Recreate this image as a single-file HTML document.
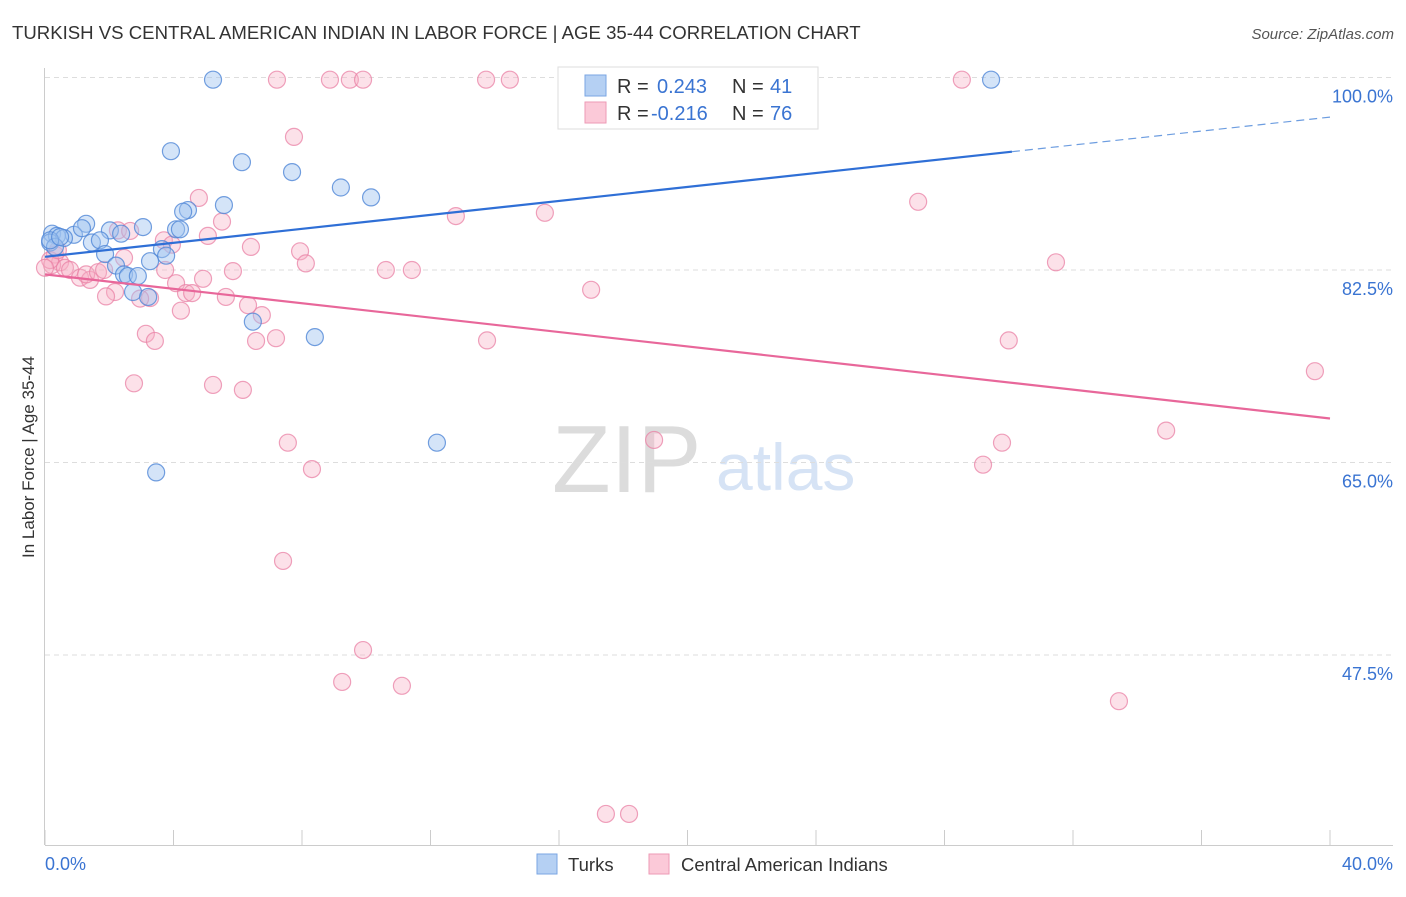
<!DOCTYPE html>
<html><head><meta charset="utf-8"><style>
body{margin:0;background:#fff;font-family:"Liberation Sans",sans-serif;}
svg text{font-family:"Liberation Sans",sans-serif;}
</style></head><body>
<svg id="chart" width="1406" height="892">
<text x="12" y="39" font-size="18.6" fill="#333">TURKISH VS CENTRAL AMERICAN INDIAN IN LABOR FORCE | AGE 35-44 CORRELATION CHART</text>
<text x="1394" y="39" font-size="15" fill="#555" font-style="italic" text-anchor="end">Source: ZipAtlas.com</text>
<text transform="translate(34,457) rotate(-90)" font-size="17" fill="#333" text-anchor="middle">In Labor Force | Age 35-44</text>
<g>
<text x="552" y="492" font-size="96" fill="#dcdcdc" font-family="Liberation Serif,serif">ZIP</text>
<text x="716" y="490" font-size="66" fill="#d6e3f5">atlas</text>
</g>
<g id="grid"></g><g id="axes"></g><g id="pts"></g><g id="lines"></g>
<g>
<rect x="558" y="67" width="260" height="62" fill="#fff" stroke="#ddd"/>
<rect x="585" y="75" width="21" height="21" fill="#b5d0f3" stroke="#7aa6e3"/>
<text x="617" y="93" font-size="20" fill="#333">R = </text><text x="657" y="93" font-size="20" fill="#3a74d2">0.243</text>
<text x="732" y="93" font-size="20" fill="#333">N = </text><text x="770" y="93" font-size="20" fill="#3a74d2">41</text>
<rect x="585" y="102" width="21" height="21" fill="#fbc9d8" stroke="#ee9ab6"/>
<text x="617" y="120" font-size="20" fill="#333">R = </text><text x="651" y="120" font-size="20" fill="#3a74d2">-0.216</text>
<text x="732" y="120" font-size="20" fill="#333">N = </text><text x="770" y="120" font-size="20" fill="#3a74d2">76</text>
</g>
<g>
<rect x="537" y="854" width="20" height="20" fill="#b5d0f3" stroke="#7aa6e3"/>
<text x="568" y="871" font-size="18.5" fill="#333">Turks</text>
<rect x="649" y="854" width="20" height="20" fill="#fbc9d8" stroke="#ee9ab6"/>
<text x="681" y="871" font-size="18.5" fill="#333">Central American Indians</text>
</g>
</svg>
<script>
const yTicks=[100,82.5,65,47.5];
const yTickLabels=["100.0%","82.5%","65.0%","47.5%"];
const xTickLabels=["0.0%","40.0%"];
const turksX=[5.23,29.45,3.92,6.13,7.69,9.21,10.15,5.57,4.45,4.30,1.28,3.05,4.08,4.20,0.22,0.37,0.90,1.15,2.02,2.37,0.59,1.46,1.71,0.16,0.31,1.87,3.64,3.77,3.27,2.21,2.46,2.58,2.89,2.74,3.21,6.47,8.40,12.20,3.46,0.16,0.47];
const turksY=[99.8,99.8,93.3,92.3,91.4,90.0,89.1,88.4,87.95,87.8,86.7,86.4,86.2,86.2,85.8,85.6,85.7,86.3,86.1,85.8,85.4,85.0,85.2,85.0,84.6,83.95,84.4,83.8,83.3,82.9,82.1,81.95,81.95,80.5,80.05,77.8,76.4,66.8,64.1,85.2,85.5];
const camX=[7.22,8.87,9.49,9.90,13.73,14.47,28.54,7.75,4.79,27.18,5.51,15.56,12.79,2.27,2.65,3.70,3.95,5.07,6.41,7.94,8.12,0.31,0.47,0.22,0.62,0.78,1.09,1.40,1.28,1.65,1.84,2.46,3.74,5.85,10.61,11.42,31.47,4.92,4.08,2.18,1.90,4.39,4.58,5.63,3.27,2.96,6.32,6.75,4.23,17.0,3.14,3.42,6.57,7.19,13.76,30.0,39.53,2.77,5.23,6.16,7.56,8.31,18.96,29.79,34.9,29.2,7.41,9.90,9.25,11.11,33.43,17.46,18.18,0.16,0.40,0.0];
const camY=[99.8,99.8,99.8,99.8,99.8,99.8,99.8,94.6,89.05,88.7,86.9,87.7,87.4,86.1,86.05,85.2,84.8,85.6,84.6,84.2,83.1,83.9,83.2,82.95,82.7,82.5,81.8,81.6,82.1,82.3,82.5,83.6,82.5,82.4,82.5,82.5,83.2,81.7,81.3,80.5,80.1,80.4,80.4,80.05,79.95,79.9,79.3,78.4,78.8,80.7,76.7,76.05,76.05,76.3,76.1,76.1,73.3,72.2,72.05,71.6,66.8,64.4,67.05,66.8,67.9,64.8,56.05,47.95,45.05,44.7,43.3,33.05,33.05,83.4,84.3,82.7];
const turksTrend=[83.7,96.4]; const turksSolidEnd=30.1;
const camTrend=[82.1,69.0];
const X=v=>45+v*32.125, Y=v=>270-(v-82.5)*11;
const NS="http://www.w3.org/2000/svg";
function mk(p,t,a){const e=document.createElementNS(NS,t);for(const k in a)e.setAttribute(k,a[k]);p.appendChild(e);return e;}
const grid=document.getElementById('grid'),axes=document.getElementById('axes'),pts=document.getElementById('pts'),lines=document.getElementById('lines');
yTicks.forEach((v,i)=>{
 const l=mk(grid,'line',{x1:45,x2:1393,y1:Y(v),y2:Y(v),stroke:'#ddd','stroke-dasharray':'5,4'});
 
 
 const t=mk(grid,'text',{x:1393,y:Y(v)+25,'font-size':18,fill:'#3a74d2','text-anchor':'end'});t.textContent=yTickLabels[i];
 
 
});
mk(axes,'line',{x1:44.5,x2:44.5,y1:68,y2:845,stroke:'#ccc'});
const ax=mk(axes,'line',{x1:45,x2:1393,y1:845.5,y2:845.5,stroke:'#ccc'});


for(let k=0;k<=10;k++){mk(axes,'line',{x1:X(k*4),x2:X(k*4),y1:830,y2:845,stroke:'#ccc'});}
[[0,45,'start'],[1,1393,'end']].forEach(([i,x,a])=>{const t=mk(axes,'text',{x:x,y:870,'font-size':18,fill:'#3a74d2','text-anchor':a});t.textContent=xTickLabels[i];
 
 });
camX.forEach((v,i)=>{const c=mk(pts,'circle',{cx:X(v),cy:Y(camY[i]),r:8.5,fill:'rgba(247,175,198,0.38)',stroke:'rgba(234,130,165,0.75)','stroke-width':1.2});
 
 });
turksX.forEach((v,i)=>{const c=mk(pts,'circle',{cx:X(v),cy:Y(turksY[i]),r:8.5,fill:'rgba(160,196,240,0.45)',stroke:'rgba(80,135,215,0.8)','stroke-width':1.2});
 
 });
const ty=x=>turksTrend[0]+(turksTrend[1]-turksTrend[0])*x/40;
const l1=mk(lines,'line',{x1:X(0),y1:Y(ty(0)),x2:X(turksSolidEnd),y2:Y(ty(turksSolidEnd)),stroke:'#2f6fd6','stroke-width':2.2});


const l2=mk(lines,'line',{x1:X(turksSolidEnd),y1:Y(ty(turksSolidEnd)),x2:X(40),y2:Y(ty(40)),stroke:'#6d9de0','stroke-width':1.2,'stroke-dasharray':'8,5'});


const l3=mk(lines,'line',{x1:X(0),y1:Y(camTrend[0]),x2:X(40),y2:Y(camTrend[1]),stroke:'#e8679a','stroke-width':2.2});


</script>
</body></html>
